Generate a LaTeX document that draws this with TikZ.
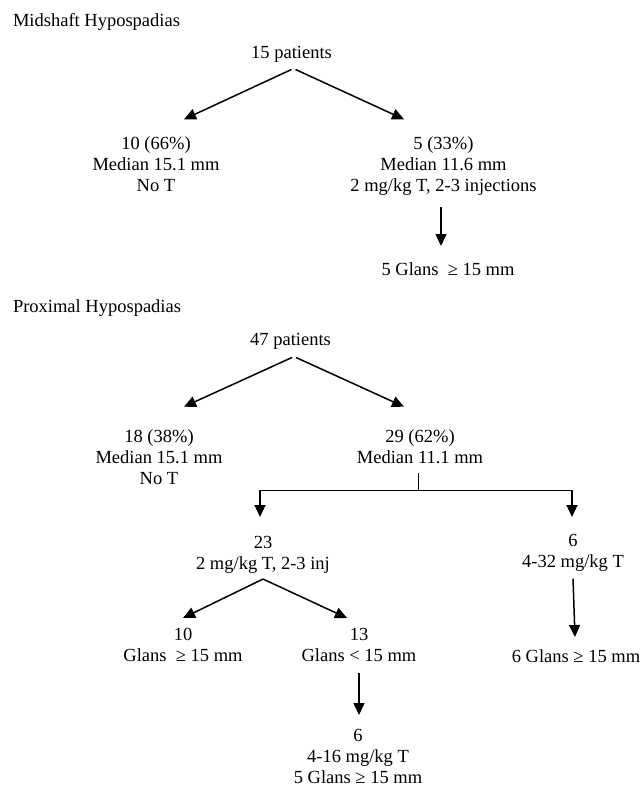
\documentclass[tikz,border=0pt]{standalone}
\usepackage{fontspec}
\setmainfont{Liberation Serif}
\usetikzlibrary{arrows.meta}

\begin{document}
\begin{tikzpicture}[x=1pt,y=-1pt]

\tikzstyle{txt}=[inner sep=0pt,outer sep=0pt,align=center,anchor=north,font=\fontsize{18.5}{21}\selectfont]
\tikzstyle{title}=[inner sep=0pt,outer sep=0pt,anchor=base west,font=\fontsize{18.5}{21}\selectfont]
\tikzstyle{arrow}=[line width=1.5pt,-{Triangle[length=12pt,width=11pt]}]

\useasboundingbox (0,0) rectangle (643,787);

% midshaft
\node (tmid) [title] at (13,27) {Midshaft Hypospadias};
\node (p15) [txt] at (291.5,46.3) {15 patients};
\node (m10) [txt] at (156,136.3) {10 (66\%)\\Median 15.1 mm\\No T};
\node (m5) [txt] at (443.5,136.3) {5 (33\%)\\Median 11.6 mm\\2 mg/kg T, 2-3 injections};
\node (m5g) [txt] at (448,262.3) {5 Glans~ ≥ 15 mm};

\draw [arrow] ([xshift=0pt,yshift=-7pt]p15.south) -- ([xshift=28pt,yshift=17pt]m10.north);
\draw [arrow] ([xshift=4pt,yshift=-7pt]p15.south) -- ([xshift=-39.5pt,yshift=17pt]m5.north);
\draw [arrow] ([xshift=-2.5pt,yshift=-12pt]m5.south) -- ([xshift=-7pt,yshift=16.3pt]m5g.north);

% proximal
\node (tprox) [title] at (13,312) {Proximal Hypospadias};
\node (p47) [txt] at (290.5,333.3) {47 patients};
\node (q18) [txt] at (159,429.3) {18 (38\%)\\Median 15.1 mm\\No T};
\node (q29) [txt] at (420,429.3) {29 (62\%)\\Median 11.1 mm};
\node (q23) [txt] at (263,535.8) {23\\2 mg/kg T, 2-3 inj};
\node (q6) [txt] at (573,534.3) {6\\4-32 mg/kg T};
\node (q10) [txt] at (183,628.3) {10\\Glans~ ≥ 15 mm};
\node (q13) [txt] at (359,628.3) {13\\Glans < 15 mm};
\node (q6b) [txt] at (358,729.3) {6\\4-16 mg/kg T\\5 Glans ≥ 15 mm};
\node (q6g) [txt] at (576,649.3) {6 Glans ≥ 15 mm};

\draw [arrow] ([xshift=1.5pt,yshift=-8pt]p47.south) -- ([xshift=25pt,yshift=22.6pt]q18.north);
\draw [arrow] ([xshift=5.5pt,yshift=-8pt]p47.south) -- ([xshift=-16pt,yshift=22.6pt]q29.north);

\coordinate (fork) at ([xshift=-2pt,yshift=-27pt]q29.south);
\draw [line width=1pt] ([xshift=-2pt,yshift=-10pt]q29.south) -- (fork);
\draw [arrow,line width=1.1pt] (fork) -| ([xshift=-3pt,yshift=18.8pt]q23.north);
\draw [arrow,line width=1.1pt] (fork) -| ([xshift=-1pt,yshift=17.3pt]q6.north);

\draw [arrow] ([yshift=-6pt]q23.south) -- ([yshift=10.3pt]q10.north);
\draw [arrow] ([yshift=-6pt]q23.south) -- ([xshift=-12pt,yshift=10.3pt]q13.north);
\draw [arrow] ([yshift=-11pt]q13.south) -- ([xshift=1pt,yshift=14.3pt]q6b.north);
\draw [arrow] ([yshift=-7pt]q6.south) -- ([xshift=-1pt,yshift=12.3pt]q6g.north);

\end{tikzpicture}
\end{document}
